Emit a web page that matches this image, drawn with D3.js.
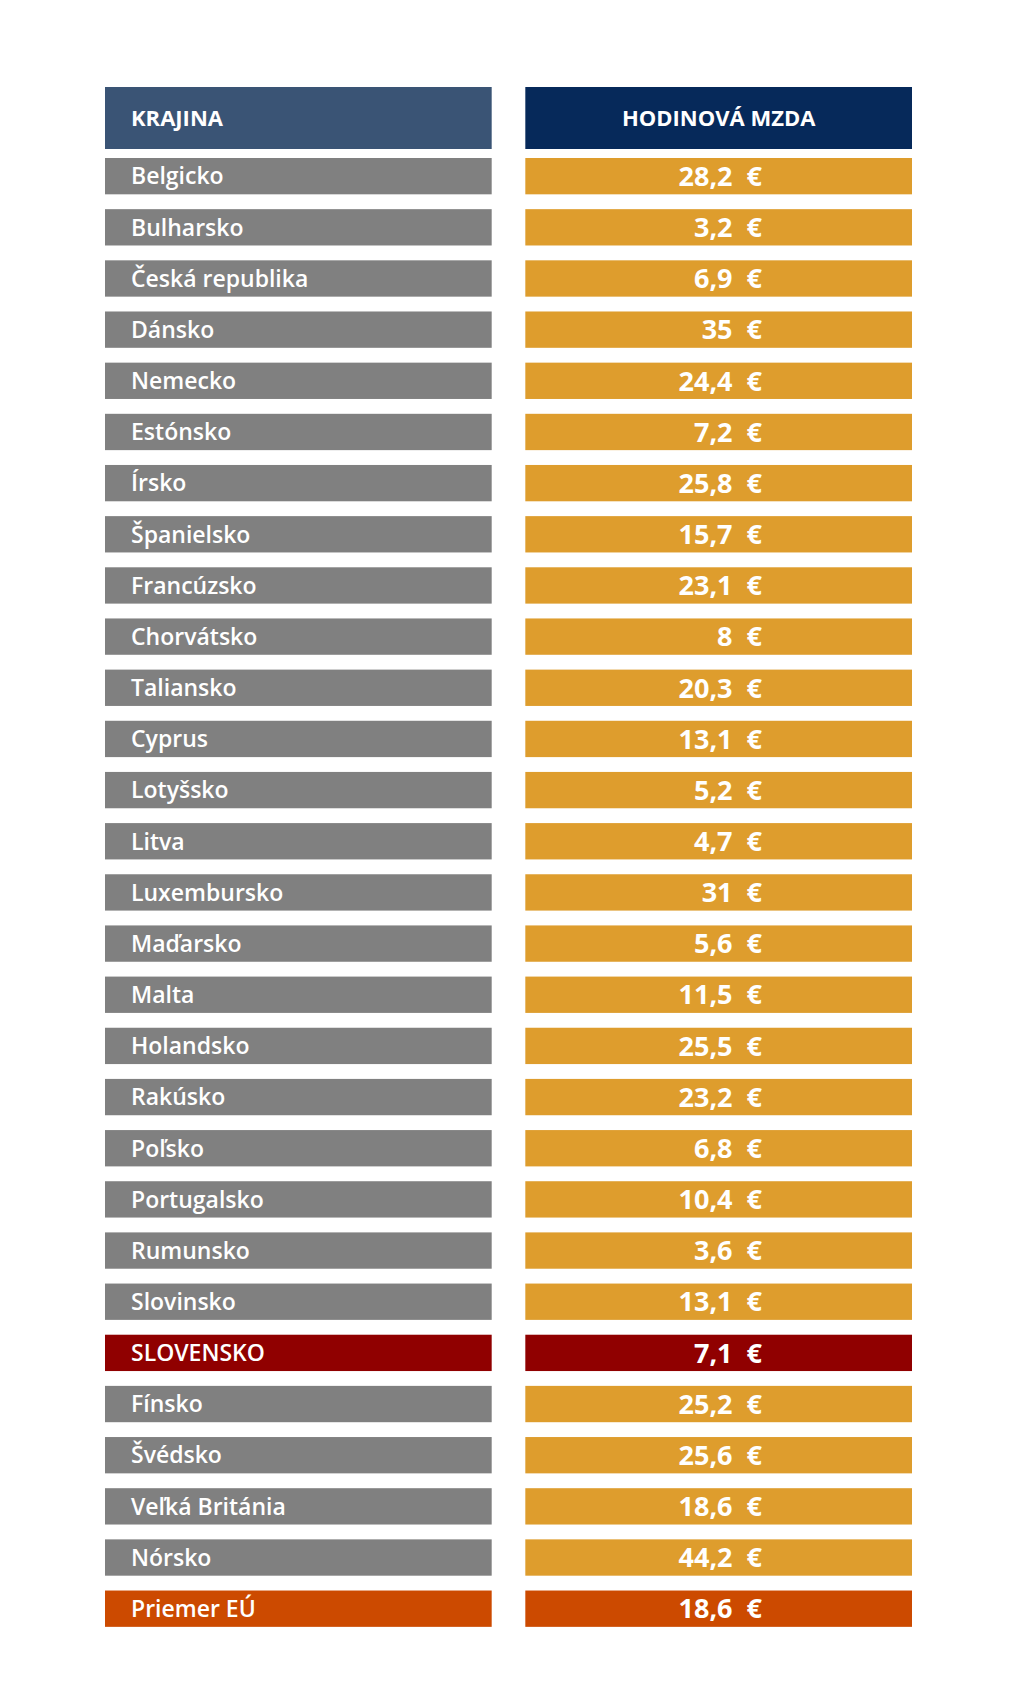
<!DOCTYPE html>
<html><head><meta charset="utf-8">
<script src="https://cdn.jsdelivr.net/npm/d3@7"></script>
<style>body{margin:0;background:#fff}</style>
</head><body><div id="chart"></div>
<script>
var countries = ["Belgicko","Bulharsko","Česká republika","Dánsko","Nemecko","Estónsko","Írsko","Španielsko","Francúzsko","Chorvátsko","Taliansko","Cyprus","Lotyšsko","Litva","Luxembursko","Maďarsko","Malta","Holandsko","Rakúsko","Poľsko","Portugalsko","Rumunsko","Slovinsko","SLOVENSKO","Fínsko","Švédsko","Veľká Británia","Nórsko","Priemer EÚ"];
var wages = [28.2,3.2,6.9,35,24.4,7.2,25.8,15.7,23.1,8,20.3,13.1,5.2,4.7,31,5.6,11.5,25.5,23.2,6.8,10.4,3.6,13.1,7.1,25.2,25.6,18.6,44.2,18.6];
var headers = ["KRAJINA","HODINOVÁ MZDA"];

var w = 1024, h = 1700;
var svg = d3.select("#chart").append("svg").attr("width", w).attr("height", h);
var font = "'Open Sans', sans-serif";

var y = d3.scaleBand().domain(countries).range([158, 158 + 50.65*29]).paddingInner(0.29).paddingOuter(0);
var x = d3.scaleBand().domain(headers).range([105, 912]).paddingInner(0.08);

function leftColor(d){ return d == "SLOVENSKO" ? "#900000" : d == "Priemer EÚ" ? "#cc4a00" : "#808080"; }
function rightColor(d){ return d == "SLOVENSKO" ? "#900000" : d == "Priemer EÚ" ? "#cc4a00" : "#de9d2d"; }
function fmt(v){ return String(v).replace(".", ",") + "\u00a0\u00a0€"; }

// header
svg.selectAll("rect.head").data(headers).enter().append("rect")
  .attr("x", function(d){ return x(d); }).attr("y", 87)
  .attr("width", x.bandwidth()).attr("height", 62)
  .attr("fill", function(d,i){ return i == 0 ? "#3a5475" : "#06295a"; });
svg.selectAll("text.head").data(headers).enter().append("text")
  .attr("x", function(d,i){ return i == 0 ? x(d) + 26 : x(d) + x.bandwidth()/2; })
  .attr("y", 118).attr("dy", "0.35em")
  .attr("text-anchor", function(d,i){ return i == 0 ? "start" : "middle"; })
  .attr("font-family", font).attr("font-weight", "bold").attr("font-size", "22px")
  .attr("fill", "white").text(function(d){ return d; });

var rows = svg.selectAll("g.row").data(countries).enter().append("g")
  .attr("transform", function(d){ return "translate(0," + y(d) + ")"; });
rows.append("rect").attr("x", x(headers[0])).attr("width", x.bandwidth())
  .attr("height", y.bandwidth()).attr("fill", leftColor);
rows.append("rect").attr("x", x(headers[1])).attr("width", x.bandwidth())
  .attr("height", y.bandwidth()).attr("fill", function(d){ return rightColor(d); });
rows.append("text").attr("x", x(headers[0]) + 26).attr("y", y.bandwidth()/2).attr("dy", "0.36em")
  .attr("font-family", font).attr("font-weight", "600").attr("font-size", "23px")
  .attr("fill", "white").text(function(d){ return d; });
rows.append("text").attr("x", 762).attr("y", y.bandwidth()/2).attr("dy", "0.36em")
  .attr("text-anchor", "end")
  .attr("font-family", font).attr("font-weight", "bold").attr("font-size", "27px")
  .attr("fill", "white").text(function(d,i){ return fmt(wages[i]); });
</script></body></html>
